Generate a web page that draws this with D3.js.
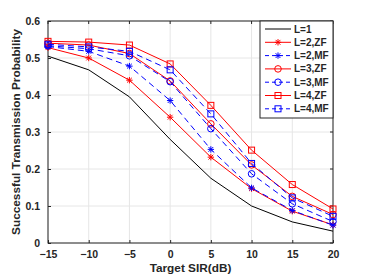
<!DOCTYPE html>
<html>
<head>
<meta charset="utf-8">
<script src="https://cdn.jsdelivr.net/npm/d3@7"></script>
<style>
  body { margin: 0; background: #fff; }
  text { font-family: "Liberation Sans", Arial, sans-serif; font-weight: bold; fill: #262626; }
</style>
</head>
<body>
<div id="chart"></div>
<script>
var sir = [-15, -10, -5, 0, 5, 10, 15, 20];
var xTicks = [-15, -10, -5, 0, 5, 10, 15, 20];
var yTicks = [0, 0.1, 0.2, 0.3, 0.4, 0.5, 0.6];

var L1   = [0.505, 0.468, 0.395, 0.280, 0.175, 0.100, 0.057, 0.032];
var L2ZF = [0.528, 0.500, 0.440, 0.340, 0.232, 0.147, 0.086, 0.049];
var L2MF = [0.531, 0.518, 0.478, 0.385, 0.253, 0.149, 0.088, 0.048];
var L3ZF = [0.540, 0.535, 0.512, 0.438, 0.322, 0.211, 0.126, 0.077];
var L3MF = [0.533, 0.525, 0.506, 0.436, 0.309, 0.187, 0.106, 0.058];
var L4ZF = [0.545, 0.543, 0.535, 0.484, 0.372, 0.251, 0.158, 0.092];
var L4MF = [0.537, 0.530, 0.518, 0.468, 0.349, 0.215, 0.122, 0.072];

var series = [
  {name: "L=1",    vals: L1,   color: "#000000", dash: null,  marker: "none"},
  {name: "L=2,ZF", vals: L2ZF, color: "#ff0000", dash: null,  marker: "star"},
  {name: "L=2,MF", vals: L2MF, color: "#0000ff", dash: "6,4", marker: "star"},
  {name: "L=3,ZF", vals: L3ZF, color: "#ff0000", dash: null,  marker: "circle"},
  {name: "L=3,MF", vals: L3MF, color: "#0000ff", dash: "6,4", marker: "circle"},
  {name: "L=4,ZF", vals: L4ZF, color: "#ff0000", dash: null,  marker: "square"},
  {name: "L=4,MF", vals: L4MF, color: "#0000ff", dash: "6,4", marker: "square"}
];

var width = 368, height = 276;
var pLeft = 48, pRight = 333, pTop = 21, pBottom = 243;

var svg = d3.select("#chart").append("svg")
  .attr("width", width)
  .attr("height", height);

var x = d3.scaleLinear().domain([-15, 20]).range([pLeft, pRight]);
var y = d3.scaleLinear().domain([0, 0.6]).range([pBottom, pTop]);

// grid
svg.append("g").selectAll("line")
  .data(xTicks).enter().append("line")
  .attr("x1", d => x(d)).attr("x2", d => x(d))
  .attr("y1", pTop).attr("y2", pBottom)
  .attr("stroke", "#e6e6e6").attr("stroke-width", 1);
svg.append("g").selectAll("line")
  .data(yTicks).enter().append("line")
  .attr("y1", d => y(d)).attr("y2", d => y(d))
  .attr("x1", pLeft).attr("x2", pRight)
  .attr("stroke", "#e6e6e6").attr("stroke-width", 1);

// axes
var xAxis = d3.axisBottom(x).tickValues(xTicks).tickSizeInner(-3).tickSizeOuter(0).tickPadding(8);
var yAxis = d3.axisLeft(y).tickValues(yTicks).tickSizeInner(-3).tickSizeOuter(0).tickPadding(8)
  .tickFormat(d => d === 0 ? "0" : d3.format(".1f")(d));

var gx = svg.append("g").attr("transform", "translate(0," + pBottom + ")").call(xAxis);
var gy = svg.append("g").attr("transform", "translate(" + pLeft + ",0)").call(yAxis);
[gx, gy].forEach(function(g) {
  g.selectAll("text").attr("font-size", "10.5px").attr("font-family", "Liberation Sans, Arial, sans-serif")
    .attr("font-weight", "bold").attr("fill", "#262626");
  g.selectAll("line").attr("stroke", "#262626");
  g.select(".domain").remove();
});

// top/right ticks (box style)
svg.append("g").selectAll("line")
  .data(xTicks).enter().append("line")
  .attr("x1", d => x(d)).attr("x2", d => x(d))
  .attr("y1", pTop).attr("y2", pTop + 3)
  .attr("stroke", "#262626");
svg.append("g").selectAll("line")
  .data(yTicks).enter().append("line")
  .attr("y1", d => y(d)).attr("y2", d => y(d))
  .attr("x1", pRight).attr("x2", pRight - 3)
  .attr("stroke", "#262626");

svg.append("rect")
  .attr("x", pLeft).attr("y", pTop)
  .attr("width", pRight - pLeft).attr("height", pBottom - pTop)
  .attr("fill", "none").attr("stroke", "#262626").attr("stroke-width", 1);

var line = d3.line().x((d, i) => x(sir[i])).y(d => y(d));

function drawMarker(g, type, cx, cy, color) {
  if (type === "star") {
    var s = 3.2;
    g.append("path")
      .attr("d", "M" + (cx - s) + "," + cy + "H" + (cx + s) +
        "M" + cx + "," + (cy - s) + "V" + (cy + s) +
        "M" + (cx - s * 0.75) + "," + (cy - s * 0.75) + "L" + (cx + s * 0.75) + "," + (cy + s * 0.75) +
        "M" + (cx - s * 0.75) + "," + (cy + s * 0.75) + "L" + (cx + s * 0.75) + "," + (cy - s * 0.75))
      .attr("stroke", color).attr("stroke-width", 1).attr("fill", "none");
  } else if (type === "circle") {
    g.append("circle").attr("cx", cx).attr("cy", cy).attr("r", 3.3)
      .attr("fill", "none").attr("stroke", color).attr("stroke-width", 1);
  } else if (type === "square") {
    g.append("rect").attr("x", cx - 3).attr("y", cy - 3).attr("width", 6).attr("height", 6)
      .attr("fill", "none").attr("stroke", color).attr("stroke-width", 1);
  }
}

series.forEach(function(s) {
  var g = svg.append("g");
  g.append("path")
    .datum(s.vals)
    .attr("d", line)
    .attr("fill", "none")
    .attr("stroke", s.color)
    .attr("stroke-width", 1)
    .attr("stroke-dasharray", s.dash);
  s.vals.forEach(function(v, i) {
    drawMarker(g, s.marker, x(sir[i]), y(v), s.color);
  });
});

// legend
var lg = svg.append("g");
lg.append("rect")
  .attr("x", 260).attr("y", pTop)
  .attr("width", pRight - 260).attr("height", 97)
  .attr("fill", "#fff").attr("stroke", "#262626").attr("stroke-width", 1);
series.forEach(function(s, i) {
  var ly = 29 + i * 13.3;
  lg.append("line")
    .attr("x1", 265).attr("x2", 291).attr("y1", ly).attr("y2", ly)
    .attr("stroke", s.color).attr("stroke-width", 1)
    .attr("stroke-dasharray", s.dash ? "4,3" : null);
  drawMarker(lg, s.marker, 278, ly, s.color);
  lg.append("text").text(s.name)
    .attr("x", 294).attr("y", ly + 3.5)
    .attr("font-size", "10px");
});

// axis labels
svg.append("text").text("Target SIR(dB)")
  .attr("x", (pLeft + pRight) / 2).attr("y", 272)
  .attr("text-anchor", "middle").attr("font-size", "11.8px");
svg.append("text").text("Successful Transmission Probability")
  .attr("transform", "translate(20," + ((pTop + pBottom) / 2) + ") rotate(-90)")
  .attr("text-anchor", "middle").attr("font-size", "11.8px");
</script>
</body>
</html>
